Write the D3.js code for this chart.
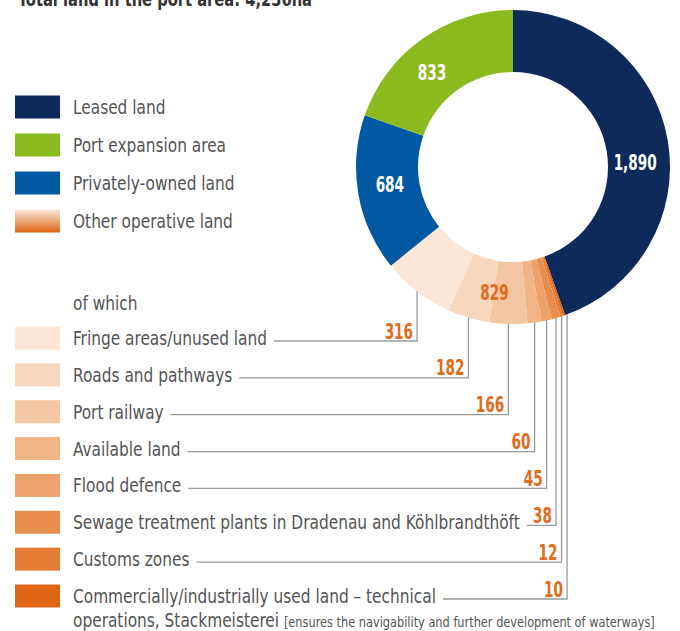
<!DOCTYPE html>
<html>
<head>
<meta charset="utf-8">
<script src="https://cdn.jsdelivr.net/npm/d3@7/dist/d3.min.js"></script>
<style>
  html, body { margin: 0; padding: 0; background: #fff; }
  svg { display: block; }
  text { font-family: "Liberation Sans Narrow", "DejaVu Sans Condensed", "Arial Narrow", sans-serif; }
</style>
</head>
<body>
<svg id="chart" width="680" height="631"></svg>
<script>
// Land use in the port area, hectares
const mainCategories = ["Leased land", "Port expansion area", "Privately-owned land", "Other operative land"];
const mainValues = [1890, 833, 684, 829];
const mainColors = ["#0e2a5a", "#8bba1f", "#0059a2", "#ef9a5f"];

// Breakdown of "Other operative land"
const subCategories = [
  "Fringe areas/unused land",
  "Roads and pathways",
  "Port railway",
  "Available land",
  "Flood defence",
  "Sewage treatment plants in Dradenau and Köhlbrandthöft",
  "Customs zones",
  "Commercially/industrially used land – technical"
];
const subValues = [316, 182, 166, 60, 45, 38, 12, 10];
const subColors = ["#fbe6d8", "#f8d7bf", "#f5c6a3", "#f1b486", "#eda26b", "#e98d4e", "#e57d37", "#de6514"];

const titleText = "Total land in the port area: 4,236ha";
const lastLine = "operations, Stackmeisterei ";
const lastNote = "[ensures the navigability and further development of waterways]";

const svg = d3.select("#chart");
const fmt = d3.format(",");

// condensed text: horizontal squeeze applied around the anchor point
function label(parent, x, y, str, opts) {
  const o = Object.assign({ size: 19.5, sx: 0.877, weight: "normal", fill: "#555", anchor: "start", dy: "0.36em" }, opts);
  const t = parent.append("text")
    .attr("transform", `translate(${x},${y}) scale(${o.sx},1)`)
    .attr("dy", o.dy)
    .attr("text-anchor", o.anchor)
    .attr("font-size", o.size)
    .attr("font-weight", o.weight)
    .attr("fill", o.fill);
  if (str !== null) t.text(str);
  t.sx = o.sx;
  return t;
}

// title, mostly above the visible frame
label(svg, 18, 6, titleText, { size: 19, sx: 0.86, weight: "bold", fill: "#333", dy: 0 });

// ring: leased first clockwise from 12 o'clock, then the breakdown of
// other land from darkest to lightest, then privately-owned, then expansion
const slices = [
  { name: mainCategories[0], value: mainValues[0], color: mainColors[0], main: 0 },
  ...subCategories.map((c, i) => ({ name: c, value: subValues[i], color: subColors[i], sub: i })).reverse(),
  { name: mainCategories[2], value: mainValues[2], color: mainColors[2], main: 2 },
  { name: mainCategories[1], value: mainValues[1], color: mainColors[1], main: 1 }
];

const cx = 513, cy = 167, R = 157, r0 = 95;
const pie = d3.pie().value(d => d.value).sort(null);
const arcs = pie(slices);
const arc = d3.arc().innerRadius(r0).outerRadius(R);

// leader line x positions under each breakdown slice, kept apart for thin slices
const subArcs = arcs.filter(a => a.data.sub !== undefined).sort((a, b) => a.data.sub - b.data.sub);
const leaderX = subArcs.map(a => cx + R * Math.sin((a.startAngle + a.endAngle) / 2));
for (let i = 1; i < leaderX.length; i++) {
  if (leaderX[i] < leaderX[i - 1] + 5.5) leaderX[i] = leaderX[i - 1] + 5.5;
}

// legend
const legend = svg.append("g");
const swW = 45, swH = 23, swX = 15, txX = 73;

const defs = svg.append("defs");
const grad = defs.append("linearGradient").attr("id", "otherGrad")
  .attr("x1", 0).attr("y1", 0).attr("x2", 0).attr("y2", 1);
grad.append("stop").attr("offset", "0%").attr("stop-color", "#fce9dc");
grad.append("stop").attr("offset", "100%").attr("stop-color", "#de6514");

const mainRowY = d3.scaleLinear().domain([0, 3]).range([107, 221]);
mainCategories.forEach((c, i) => {
  const y = mainRowY(i);
  legend.append("rect")
    .attr("x", swX).attr("y", y - swH / 2).attr("width", swW).attr("height", swH)
    .attr("fill", i === 3 ? "url(#otherGrad)" : mainColors[i]);
  label(legend, txX, y, c);
});

label(legend, txX, 303, "of which");

const subRowY = d3.scaleLinear().domain([0, 7]).range([338, 596]);
const leaders = svg.append("g").attr("fill", "none").attr("stroke", "#9a9a9a").attr("stroke-width", 1.3);
const valueLabels = svg.append("g");

subCategories.forEach((c, i) => {
  const y = subRowY(i);
  legend.append("rect")
    .attr("x", swX).attr("y", y - swH / 2).attr("width", swW).attr("height", swH)
    .attr("fill", subColors[i]);
  const t = label(legend, txX, y, c);
  const tw = t.node().getComputedTextLength() * t.sx;

  const lx = leaderX[i];
  const ly = y + 3;
  const dx = lx - cx;
  const yTop = cy + Math.sqrt(Math.max(0, R * R - dx * dx)) - 4;
  leaders.append("path")
    .attr("d", `M${txX + tw + 7},${ly}H${lx}V${yTop}`);

  label(valueLabels, lx - 4, ly - 2.5, subValues[i], {
    size: 20.5, sx: 0.74, weight: "bold", fill: "#e06c1c", anchor: "end", dy: 0
  });
});

// second line of the last breakdown label
const last = label(legend, txX, 620, null);
last.append("tspan").text(lastLine);
last.append("tspan").attr("font-size", 14.4).text(lastNote);

// ring slices, drawn over the top ends of the leaders
const ring = svg.append("g").attr("transform", `translate(${cx},${cy})`);
ring.selectAll("path.slice")
  .data(arcs)
  .join("path")
  .attr("class", "slice")
  .attr("d", arc)
  .attr("fill", d => d.data.color);

// value labels inside the ring
const nudge = {
  "Leased land": [-2, 17],
  "Port expansion area": [-8, 8],
  "Privately-owned land": [1, -4]
};
const labelArc = d3.arc().innerRadius(126).outerRadius(126);
arcs.filter(a => a.data.main !== undefined).forEach(a => {
  const [x, y] = labelArc.centroid(a);
  const n = nudge[a.data.name] || [0, 0];
  label(ring, x + n[0], y + n[1], fmt(a.data.value), {
    size: 20.5, sx: 0.74, weight: "bold", fill: "#fff", anchor: "middle"
  });
});

// total of the breakdown, over its slices
const subStart = d3.min(subArcs, a => a.startAngle);
const subEnd = d3.max(subArcs, a => a.endAngle);
const [ox, oy] = labelArc.centroid({ startAngle: subStart, endAngle: subEnd });
label(ring, ox + 16, oy + 4, fmt(mainValues[3]), {
  size: 20.5, sx: 0.74, weight: "bold", fill: "#e06c1c", anchor: "middle"
});
</script>
</body>
</html>
